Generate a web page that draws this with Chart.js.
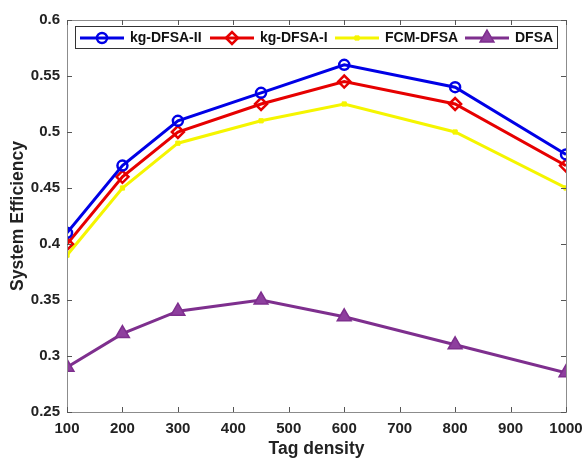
<!DOCTYPE html>
<html>
<head>
<meta charset="utf-8">
<script src="https://cdn.jsdelivr.net/npm/chart.js@4"></script>
<style>
  html, body { margin: 0; padding: 0; background: #fff; }
  #wrap { width: 582px; height: 460px; }
</style>
</head>
<body>
<div id="wrap"><canvas id="eff"></canvas></div>
<script>
var tagDensity = [100, 200, 300, 450, 600, 800, 1000];
var kgDfsa2 = [0.41, 0.47, 0.51, 0.535, 0.56, 0.54, 0.48];
var kgDfsa1 = [0.40, 0.46, 0.50, 0.525, 0.545, 0.525, 0.47];
var fcmDfsa = [0.39, 0.45, 0.49, 0.51, 0.525, 0.50, 0.45];
var dfsa = [0.29, 0.32, 0.34, 0.35, 0.335, 0.31, 0.285];
var seriesNames = ["kg-DFSA-II", "kg-DFSA-I", "FCM-DFSA", "DFSA"];

var FONT = "Arial, 'Liberation Sans', sans-serif";

function pts(ys) {
  return tagDensity.map(function (x, i) { return {x: x, y: ys[i]}; });
}

// matlab style box, inward ticks, legend inside the axes
var matlabBox = {
  id: "matlabBox",
  afterDraw: function (chart) {
    var ctx = chart.ctx, a = chart.chartArea;
    var xs = chart.scales.x, ys = chart.scales.y;
    ctx.save();
    ctx.strokeStyle = "#8c8c8c";
    ctx.lineWidth = 1;
    ctx.strokeRect(a.left + 0.5, a.top + 0.5, a.right - a.left, a.bottom - a.top);
    ctx.strokeStyle = "#555";
    ctx.beginPath();
    xs.ticks.forEach(function (t) {
      var px = Math.round(xs.getPixelForValue(t.value)) + 0.5;
      ctx.moveTo(px, a.bottom); ctx.lineTo(px, a.bottom - 5);
      ctx.moveTo(px, a.top); ctx.lineTo(px, a.top + 5);
    });
    ys.ticks.forEach(function (t) {
      var py = Math.round(ys.getPixelForValue(t.value)) + 0.5;
      ctx.moveTo(a.left, py); ctx.lineTo(a.left + 5, py);
      ctx.moveTo(a.right, py); ctx.lineTo(a.right - 5, py);
    });
    ctx.stroke();

    // legend
    var lx = a.left + 8, ly = a.top + 6, lw = a.right - a.left - 17, lh = 22;
    ctx.fillStyle = "#fff";
    ctx.fillRect(lx, ly, lw, lh);
    ctx.strokeStyle = "#333";
    ctx.lineWidth = 1;
    ctx.strokeRect(lx + 0.5, ly + 0.5, lw, lh);
    ctx.font = "bold 14px " + FONT;
    ctx.textBaseline = "middle";
    var starts = [a.left + 13, a.left + 143, a.left + 268, a.left + 398];
    var cy = ly + lh / 2 + 1;
    chart.data.datasets.forEach(function (ds, i) {
      var sx = starts[i];
      ctx.strokeStyle = ds.borderColor;
      ctx.lineWidth = 3;
      ctx.beginPath();
      ctx.moveTo(sx, cy); ctx.lineTo(sx + 44, cy);
      ctx.stroke();
      ctx.fillStyle = ds.pointBackgroundColor;
      ctx.strokeStyle = ds.borderColor;
      ctx.lineWidth = ds.pointBorderWidth;
      Chart.helpers.drawPoint(ctx, {
        pointStyle: ds.pointStyle, radius: ds.pointRadius,
        borderWidth: ds.pointBorderWidth, rotation: 0
      }, sx + 22, cy);
      ctx.fillStyle = "#111";
      ctx.fillText(ds.label, sx + 50, cy);
    });
    ctx.restore();
  }
};

new Chart(document.getElementById("eff"), {
  type: "line",
  data: {
    datasets: [
      {
        label: seriesNames[0], data: pts(kgDfsa2),
        borderColor: "#0000e6", backgroundColor: "#fff",
        borderWidth: 3, pointStyle: "circle", pointRadius: 5,
        pointBorderWidth: 2.5, pointBackgroundColor: "rgba(255,255,255,0)"
      },
      {
        label: seriesNames[1], data: pts(kgDfsa1),
        borderColor: "#e60000", backgroundColor: "#fff",
        borderWidth: 3, pointStyle: "rectRot", pointRadius: 6,
        pointBorderWidth: 2.5, pointBackgroundColor: "rgba(255,255,255,0)"
      },
      {
        label: seriesNames[2], data: pts(fcmDfsa),
        borderColor: "#f5f500", backgroundColor: "#f5f500",
        borderWidth: 3, pointStyle: "rect", pointRadius: 3,
        pointBorderWidth: 1, pointBackgroundColor: "#f5f500"
      },
      {
        label: seriesNames[3], data: pts(dfsa),
        borderColor: "#7e2f8e", backgroundColor: "#7e2f8e",
        borderWidth: 3, pointStyle: "triangle", pointRadius: 8,
        pointBorderWidth: 1.5, pointBackgroundColor: "#8e3f9e"
      }
    ]
  },
  options: {
    responsive: true,
    maintainAspectRatio: false,
    animation: false,
    layout: { padding: { top: 20, right: 16, left: 8, bottom: 0 } },
    plugins: {
      legend: { display: false },
      tooltip: { enabled: false }
    },
    scales: {
      x: {
        type: "linear", min: 100, max: 1000,
        grid: { display: false, drawTicks: false },
        border: { display: false },
        ticks: { stepSize: 100, color: "#222", padding: 8,
          callback: function (v) { return String(v); },
          font: { family: FONT, size: 15, weight: "bold" } },
        title: { display: true, text: "Tag density", color: "#222", padding: { top: 3, bottom: 0 },
          font: { family: FONT, size: 17.5, weight: "bold" } },
        afterFit: function (s) { s.height = 48; s.paddingRight = 0; s.paddingLeft = 0; }
      },
      y: {
        min: 0.25, max: 0.6,
        grid: { display: false, drawTicks: false },
        border: { display: false },
        ticks: { stepSize: 0.05, color: "#222", padding: 7,
          callback: function (v) { return String(+v.toFixed(2)); },
          font: { family: FONT, size: 15, weight: "bold" } },
        title: { display: true, text: "System Efficiency", color: "#222", padding: { top: 0, bottom: 4 },
          font: { family: FONT, size: 17.5, weight: "bold" } },
        afterFit: function (s) { s.width = 59; s.paddingTop = 0; s.paddingBottom = 0; }
      }
    }
  },
  plugins: [matlabBox]
});
</script>
</body>
</html>
